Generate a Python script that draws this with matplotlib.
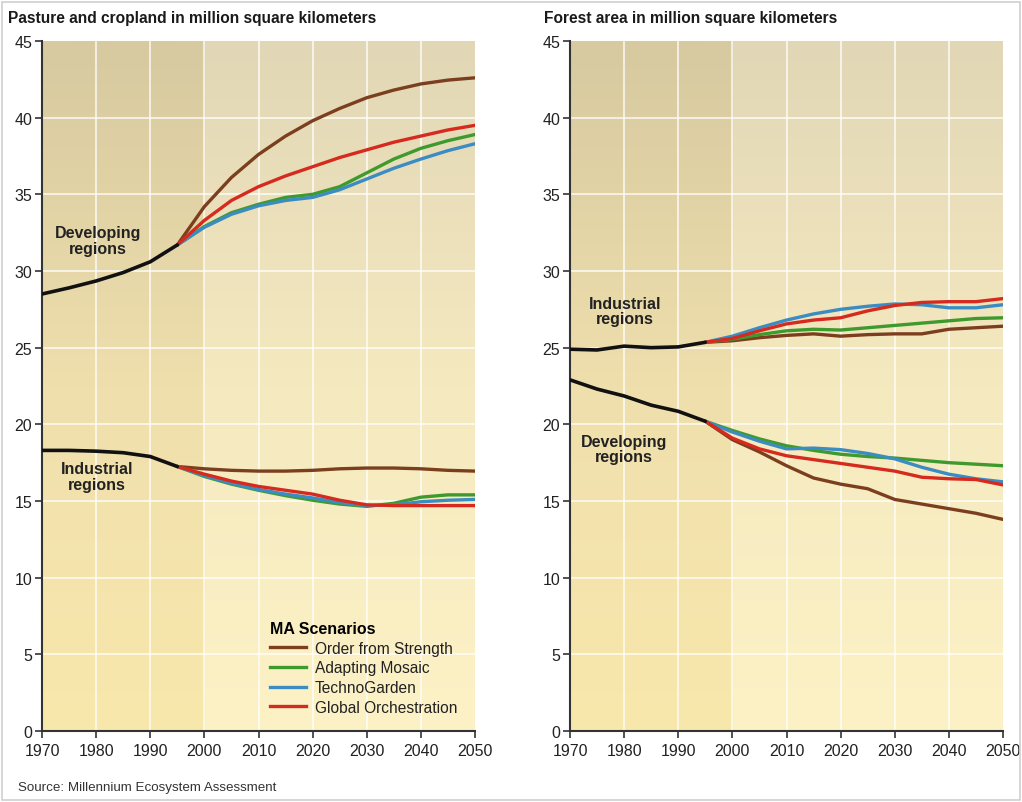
import numpy as np
import matplotlib
matplotlib.use("Agg")
import matplotlib.pyplot as plt
from matplotlib.colors import LinearSegmentedColormap
from matplotlib.patches import Rectangle

# ---------------- data ----------------
years_hist = [1970, 1975, 1980, 1985, 1990, 1995]
years_scen = [1995, 2000, 2005, 2010, 2015, 2020, 2025, 2030, 2035, 2040, 2045, 2050]

scenarios = ["Order from Strength", "Adapting Mosaic", "TechnoGarden", "Global Orchestration"]
scen_colors = ["#7b3f1f", "#3f9a2e", "#3b8cc2", "#d62a1e"]

# Pasture and cropland - developing regions
past_dev_hist = [28.5, 28.9, 29.35, 29.9, 30.6, 31.7]
past_dev_os = [31.7, 34.2, 36.1, 37.6, 38.8, 39.8, 40.6, 41.3, 41.8, 42.2, 42.45, 42.6]
past_dev_am = [31.7, 32.9, 33.8, 34.35, 34.8, 35.0, 35.5, 36.4, 37.3, 38.0, 38.5, 38.9]
past_dev_tg = [31.7, 32.85, 33.7, 34.25, 34.6, 34.8, 35.3, 36.0, 36.7, 37.3, 37.85, 38.3]
past_dev_go = [31.7, 33.3, 34.6, 35.5, 36.2, 36.8, 37.4, 37.9, 38.4, 38.8, 39.2, 39.5]

# Pasture and cropland - industrial regions
past_ind_hist = [18.3, 18.3, 18.25, 18.15, 17.9, 17.25]
past_ind_os = [17.25, 17.1, 17.0, 16.95, 16.95, 17.0, 17.1, 17.15, 17.15, 17.1, 17.0, 16.95]
past_ind_am = [17.25, 16.6, 16.1, 15.7, 15.35, 15.05, 14.8, 14.65, 14.85, 15.25, 15.4, 15.4]
past_ind_tg = [17.25, 16.65, 16.15, 15.75, 15.45, 15.2, 14.9, 14.7, 14.75, 14.95, 15.05, 15.1]
past_ind_go = [17.25, 16.75, 16.3, 15.95, 15.7, 15.45, 15.05, 14.75, 14.7, 14.7, 14.7, 14.7]

# Forest - industrial regions
for_ind_hist = [24.9, 24.85, 25.1, 25.0, 25.05, 25.35]
for_ind_os = [25.35, 25.45, 25.65, 25.8, 25.9, 25.75, 25.85, 25.9, 25.9, 26.2, 26.3, 26.4]
for_ind_am = [25.35, 25.55, 25.85, 26.1, 26.2, 26.15, 26.3, 26.45, 26.6, 26.75, 26.9, 26.95]
for_ind_tg = [25.35, 25.75, 26.3, 26.8, 27.2, 27.5, 27.7, 27.85, 27.8, 27.6, 27.6, 27.8]
for_ind_go = [25.35, 25.6, 26.1, 26.55, 26.8, 26.95, 27.4, 27.75, 27.95, 28.0, 28.0, 28.2]

# Forest - developing regions
for_dev_hist = [22.9, 22.3, 21.85, 21.25, 20.85, 20.2]
for_dev_os = [20.2, 19.0, 18.2, 17.3, 16.5, 16.1, 15.8, 15.1, 14.8, 14.5, 14.2, 13.8]
for_dev_am = [20.2, 19.6, 19.05, 18.6, 18.3, 18.05, 17.9, 17.8, 17.65, 17.5, 17.4, 17.3]
for_dev_tg = [20.2, 19.5, 18.9, 18.4, 18.45, 18.35, 18.1, 17.75, 17.2, 16.75, 16.45, 16.25]
for_dev_go = [20.2, 19.1, 18.4, 17.95, 17.7, 17.45, 17.2, 16.95, 16.55, 16.45, 16.4, 16.05]

x_ticks = [1970, 1980, 1990, 2000, 2010, 2020, 2030, 2040, 2050]
y_ticks = [0, 5, 10, 15, 20, 25, 30, 35, 40, 45]

titles = ["Pasture and cropland in million square kilometers",
          "Forest area in million square kilometers"]

# ---------------- styling ----------------
MAINFONT = ["Liberation Sans", "DejaVu Sans"]
plt.rcParams["font.family"] = MAINFONT

fig = plt.figure(figsize=(10.22, 8.03), dpi=100)
fig.patches.append(Rectangle((0.002, 0.002), 0.996, 0.994, transform=fig.transFigure,
                             fill=False, edgecolor="#cfcfcf", linewidth=1.2))

ax_l = fig.add_axes([42 / 1022, 71 / 803, 433 / 1022, 690 / 803])
ax_r = fig.add_axes([570 / 1022, 71 / 803, 433 / 1022, 690 / 803])

cmap_main = LinearSegmentedColormap.from_list("bgm", ["#fdf2c6", "#f5e9bf", "#e1d7b6"])
cmap_hist = LinearSegmentedColormap.from_list("bgh", ["#f9e8ab", "#efdfad", "#d7c9a0"])
grad = np.linspace(0, 1, 256).reshape(-1, 1)


def style_axes(ax):
    ax.imshow(grad, extent=[2000, 2050, 0, 45], origin="lower", aspect="auto",
              cmap=cmap_main, zorder=0)
    ax.imshow(grad, extent=[1970, 2000, 0, 45], origin="lower", aspect="auto",
              cmap=cmap_hist, zorder=0)
    ax.set_xlim(1970, 2050)
    ax.set_ylim(0, 45)
    for x in x_ticks[1:-1]:
        ax.axvline(x, color="white", lw=1.3, alpha=0.75, zorder=1)
    for y in y_ticks[1:-1]:
        ax.axhline(y, color="white", lw=1.3, alpha=0.75, zorder=1)
    ax.set_xticks(x_ticks)
    ax.set_yticks(y_ticks)
    ax.set_xticklabels([str(v) for v in x_ticks], fontsize=11.5, color="#222222")
    ax.set_yticklabels([str(v) for v in y_ticks], fontsize=11.5, color="#222222")
    ax.tick_params(axis="both", direction="out", length=5, width=1.2, color="#333333", pad=2)
    ax.tick_params(axis="x", pad=4)
    for s in ["top", "right"]:
        ax.spines[s].set_visible(False)
    for s in ["left", "bottom"]:
        ax.spines[s].set_color("#333333")
        ax.spines[s].set_linewidth(1.5)


def draw_group(ax, hist, os_, am, tg, go):
    series = [os_, am, tg, go]
    for vals, col in zip(series, scen_colors):
        ax.plot(years_scen, vals, color=col, lw=2.4, solid_capstyle="round", zorder=3)
    ax.plot(years_hist, hist, color="#111111", lw=2.6, solid_capstyle="round", zorder=4)


style_axes(ax_l)
style_axes(ax_r)

fig.text(8 / 1022, 1 - 18 / 803, titles[0], fontsize=11.2, fontweight="bold",
         color="#1a1a1a", ha="left", va="center")
fig.text(544 / 1022, 1 - 18 / 803, titles[1], fontsize=11.2, fontweight="bold",
         color="#1a1a1a", ha="left", va="center")

draw_group(ax_l, past_dev_hist, past_dev_os, past_dev_am, past_dev_tg, past_dev_go)
draw_group(ax_l, past_ind_hist, past_ind_os, past_ind_am, past_ind_tg, past_ind_go)
draw_group(ax_r, for_ind_hist, for_ind_os, for_ind_am, for_ind_tg, for_ind_go)
draw_group(ax_r, for_dev_hist, for_dev_os, for_dev_am, for_dev_tg, for_dev_go)

lab_kw = dict(ha="center", va="center", fontsize=11.5, fontweight="bold", color="#222222",
              linespacing=1.05, zorder=5)
ax_l.text(1980.3, 32.0, "Developing\nregions", **lab_kw)
ax_l.text(1980.2, 16.6, "Industrial\nregions", **lab_kw)
ax_r.text(1980.2, 27.4, "Industrial\nregions", **lab_kw)
ax_r.text(1980.0, 18.4, "Developing\nregions", **lab_kw)

# legend
handles = [plt.Line2D([], [], color=c, lw=2.4) for c in scen_colors]
leg = ax_l.legend(handles, scenarios, title="MA Scenarios", loc="lower left",
                  bbox_to_anchor=(0.505, 0.01), frameon=False, handlelength=2.3,
                  handletextpad=0.6, labelspacing=0.3, borderaxespad=0.2,
                  prop={"size": 11.2}, alignment="left")
leg.get_title().set_fontweight("bold")
leg.get_title().set_fontsize(11.5)
for t in leg.get_texts():
    t.set_color("#222222")

fig.text(18 / 1022, 1 - 788 / 803, "Source: Millennium Ecosystem Assessment",
         fontsize=9.6, color="#333333", ha="left", va="center")

fig.savefig("out.png", dpi=100)
